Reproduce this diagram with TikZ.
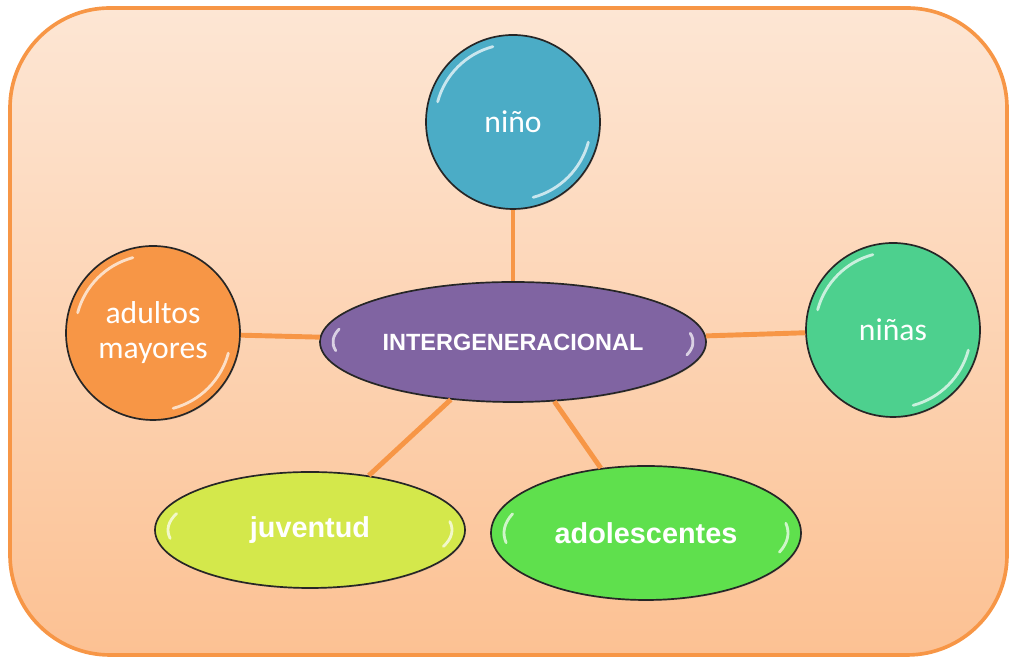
\documentclass[tikz,border=0pt]{standalone}
\usepackage{fontspec}
\usetikzlibrary{shapes.geometric,shadows}
\newfontfamily\calibri{Carlito}
\newfontfamily\arial{Liberation Sans}
\definecolor{marco}{HTML}{F79646}
\definecolor{fondoA}{HTML}{FDE6D4}
\definecolor{fondoB}{HTML}{FCC193}
\definecolor{azul}{HTML}{4BACC6}
\definecolor{naranja}{HTML}{F79646}
\definecolor{verdeagua}{HTML}{4DD08E}
\definecolor{morado}{HTML}{8064A2}
\definecolor{lima}{HTML}{D4E84B}
\definecolor{verde}{HTML}{5FE04D}

\begin{document}
\begin{tikzpicture}[
  circulo/.style = {draw=black!85, line width=1.2pt, circle, minimum size=4.35cm, inner sep=0pt,
                    text=white, font=\calibri\fontsize{22.5}{25}\selectfont, align=center,
                    drop shadow={opacity=0.25, shadow xshift=0.6pt, shadow yshift=-0.8pt}},
  elipse/.style = {draw=black!85, line width=1.2pt, ellipse, inner sep=0pt, text=white,
                   drop shadow={opacity=0.25, shadow xshift=0.6pt, shadow yshift=-0.8pt}},
  enlace/.style = {draw=marco, line width=3.5pt},
  brillo/.style = {draw=white, opacity=0.7, line width=2pt, line cap=round}]
\useasboundingbox (0,0) rectangle (25.275,16.525);
% fondo
\path[draw=marco, line width=2.6pt, rounded corners=2.5cm, top color=fondoA, bottom color=fondoB]
  (0.25,0.15) rectangle (25.175,16.325);
% nodos
\node[elipse, fill=morado, minimum width=9.65cm, minimum height=3cm,
      font=\arial\bfseries\fontsize{16.7}{20}\selectfont] (centro) at (12.825,7.975) {INTERGENERACIONAL};
\node[circulo, fill=azul] (nino) at (12.825,13.475) {niño};
\node[circulo, fill=naranja] (adultos) at (3.825,8.2) {adultos\\mayores};
\node[circulo, fill=verdeagua] (ninas) at (22.325,8.275) {niñas};
\node[elipse, fill=lima, minimum width=7.75cm, minimum height=2.9cm,
      font=\arial\bfseries\fontsize{20.5}{24}\selectfont] (juventud) at (7.75,3.275) {juventud};
\node[elipse, fill=verde, minimum width=7.75cm, minimum height=3.35cm,
      font=\arial\bfseries\fontsize{20.5}{24}\selectfont] (adolescentes) at (16.15,3.2) {adolescentes};
% brillos
\foreach \n in {nino,adultos,ninas}{
  \draw[brillo] (\n.center) ++(105:1.95) arc[start angle=105, end angle=165, radius=1.95];
  \draw[brillo] (\n.center) ++(285:1.95) arc[start angle=285, end angle=345, radius=1.95];
}
\draw[brillo] (centro.center) ++(165:4.5 and 1.25) arc[start angle=165, end angle=190, x radius=4.5, y radius=1.25];
\draw[brillo] (centro.center) ++(345:4.5 and 1.25) arc[start angle=345, end angle=370, x radius=4.5, y radius=1.25];
\draw[brillo] (juventud.center) ++(160:3.55 and 1.2) arc[start angle=160, end angle=190, x radius=3.55, y radius=1.2];
\draw[brillo] (juventud.center) ++(340:3.55 and 1.2) arc[start angle=340, end angle=370, x radius=3.55, y radius=1.2];
\draw[brillo] (adolescentes.center) ++(160:3.55 and 1.4) arc[start angle=160, end angle=190, x radius=3.55, y radius=1.4];
\draw[brillo] (adolescentes.center) ++(340:3.55 and 1.4) arc[start angle=340, end angle=370, x radius=3.55, y radius=1.4];
% enlaces
\draw[enlace] (nino) -- (centro);
\draw[enlace] (adultos) -- (centro);
\draw[enlace] (ninas) -- (centro);
\draw[enlace] (juventud) -- (centro);
\draw[enlace] (adolescentes) -- (centro);
\end{tikzpicture}
\end{document}
